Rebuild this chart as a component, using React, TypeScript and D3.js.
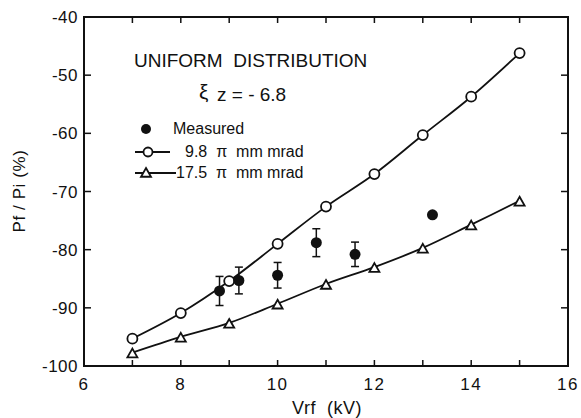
import React from "react";
import * as d3 from "d3";

const vrf = [7, 8, 9, 10, 11, 12, 13, 14, 15];
const emit98 = [-95.3, -90.9, -85.4, -79.0, -72.6, -67.0, -60.3, -53.7, -46.2];
const emit175 = [-97.7, -95.0, -92.6, -89.3, -85.9, -83.0, -79.7, -75.7, -71.6];
const measuredX = [8.8, 9.2, 10.0, 10.8, 11.6, 13.2];
const measuredY = [-87.1, -85.3, -84.4, -78.8, -80.8, -74.0];
const measuredErr = [2.5, 2.3, 2.2, 2.4, 2.1, 0];
const xTicks = [6, 8, 10, 12, 14, 16];
const xMinor = [7, 9, 11, 13, 15];
const yTicks = [-40, -50, -60, -70, -80, -90, -100];

const W = 581;
const H = 418;
const font = "'Liberation Sans', Arial, sans-serif";
const sp = "\u00A0"; // wide gaps, as in the original lettering

const App = () => {
  const left = 84, right = 568, top = 17, bottom = 366;
  const x = d3.scaleLinear().domain([6, 16]).range([left, right]);
  const y = d3.scaleLinear().domain([-100, -40]).range([bottom, top]);
  const line = d3
    .line<number>()
    .x((_, i) => x(vrf[i]))
    .curve(d3.curveCatmullRom);

  const tri = (cx: number, cy: number, s = 5) =>
    `M${cx},${cy - s} L${cx + s},${cy + s * 0.75} L${cx - s},${cy + s * 0.75} Z`;

  return (
    <svg width={W} height={H} style={{ position: "absolute", left: 0, top: 0, background: "#fff" }}>
      <g fontFamily={font} fill="#111">
        {/* frame */}
        <rect x={left} y={top} width={right - left} height={bottom - top} fill="none" stroke="#111" strokeWidth={2} />

        {/* x ticks, inward, top and bottom */}
        {[...xTicks, ...xMinor].map((t) => (
          <g key={"xt" + t}>
            <line x1={x(t)} x2={x(t)} y1={bottom} y2={bottom - 6} stroke="#111" strokeWidth={1.5} />
            <line x1={x(t)} x2={x(t)} y1={top} y2={top + 6} stroke="#111" strokeWidth={1.5} />
          </g>
        ))}
        {xTicks.map((t) => (
          <text key={"xl" + t} x={x(t)} y={bottom + 24} fontSize={17} letterSpacing={1.5} textAnchor="middle">
            {t}
          </text>
        ))}

        {/* y ticks */}
        {yTicks.map((t) => (
          <g key={"yt" + t}>
            <line x1={left} x2={left + 7} y1={y(t)} y2={y(t)} stroke="#111" strokeWidth={1.5} />
            <line x1={right} x2={right - 7} y1={y(t)} y2={y(t)} stroke="#111" strokeWidth={1.5} />
            <text x={left - 6} y={y(t) + 6} fontSize={17} letterSpacing={0.5} textAnchor="end">
              {t}
            </text>
          </g>
        ))}

        {/* axis titles */}
        <text x={327} y={414} fontSize={18} letterSpacing={0.5} textAnchor="middle">{`Vrf${sp} (kV)`}</text>
        <text transform={`translate(25,191) rotate(-90)`} fontSize={17} letterSpacing={0.6} textAnchor="middle">Pf / Pi (%)</text>

        {/* series lines */}
        <path d={line.y((d) => y(d))(emit98) || ""} fill="none" stroke="#111" strokeWidth={1.8} />
        <path d={line.y((d) => y(d))(emit175) || ""} fill="none" stroke="#111" strokeWidth={1.8} />

        {emit98.map((v, i) => (
          <circle key={"c" + i} cx={x(vrf[i])} cy={y(v)} r={5} fill="#fff" stroke="#111" strokeWidth={1.8} />
        ))}
        {emit175.map((v, i) => (
          <path key={"t" + i} d={tri(x(vrf[i]), y(v) + 1)} fill="#fff" stroke="#111" strokeWidth={1.8} />
        ))}

        {/* measured with error bars */}
        {measuredX.map((mx, i) => {
          const e = measuredErr[i];
          const cx = x(mx);
          return (
            <g key={"m" + i}>
              {e > 0 && (
                <g stroke="#111" strokeWidth={1.5}>
                  <line x1={cx} x2={cx} y1={y(measuredY[i] + e)} y2={y(measuredY[i] - e)} />
                  <line x1={cx - 4} x2={cx + 4} y1={y(measuredY[i] + e)} y2={y(measuredY[i] + e)} />
                  <line x1={cx - 4} x2={cx + 4} y1={y(measuredY[i] - e)} y2={y(measuredY[i] - e)} />
                </g>
              )}
              <circle cx={cx} cy={y(measuredY[i])} r={5.5} fill="#111" />
            </g>
          );
        })}

        {/* annotation */}
        <text x={134} y={67} fontSize={19}>{`UNIFORM${sp} DISTRIBUTION`}</text>
        <text x={199} y={99} fontSize={21}>ξ</text>
        <text x={217} y={101} fontSize={19}>{"z = - 6.8"}</text>

        {/* legend */}
        <circle cx={146} cy={129} r={5} fill="#111" />
        <text x={173} y={134} fontSize={16}>Measured</text>
        <line x1={135} x2={170} y1={152} y2={152} stroke="#111" strokeWidth={1.8} />
        <circle cx={148} cy={152} r={4.5} fill="#fff" stroke="#111" strokeWidth={1.8} />
        <text x={185} y={157} fontSize={16}>{`9.8${sp} π${sp} mm mrad`}</text>
        <line x1={135} x2={176} y1={173} y2={173} stroke="#111" strokeWidth={1.8} />
        <path d={tri(146, 173)} fill="#fff" stroke="#111" strokeWidth={1.8} />
        <text x={176} y={178} fontSize={16}>{`17.5${sp} π${sp} mm mrad`}</text>
      </g>
    </svg>
  );
};

export default App;
